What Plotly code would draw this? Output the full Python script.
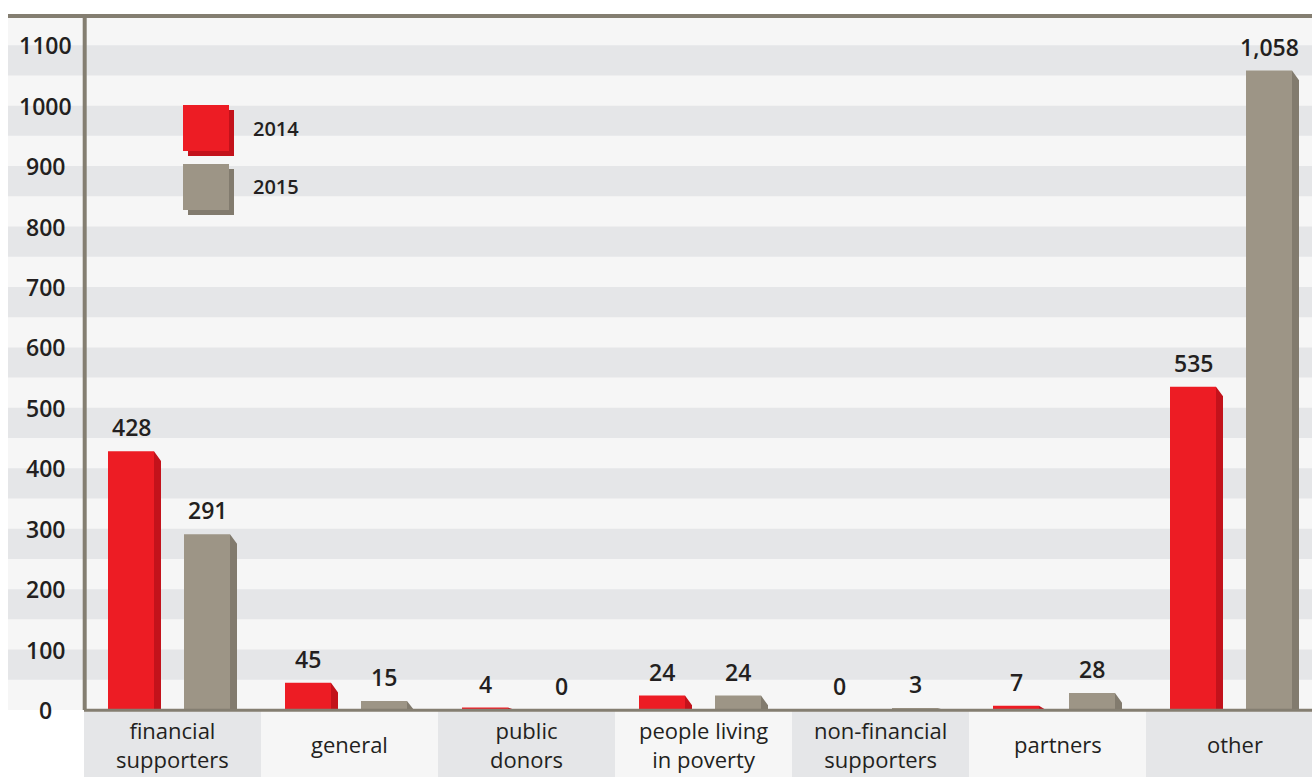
import plotly.graph_objects as go

# ---- data -------------------------------------------------------------
categories = [
    "financial<br>supporters",
    "general",
    "public<br>donors",
    "people living<br>in poverty",
    "non-financial<br>supporters",
    "partners",
    "other",
]
values_2014 = [428, 45, 4, 24, 0, 7, 535]
values_2015 = [291, 15, 0, 24, 3, 28, 1058]
series_names = ["2014", "2015"]
y_ticks = [0, 100, 200, 300, 400, 500, 600, 700, 800, 900, 1000, 1100]

# ---- styling ----------------------------------------------------------
RED, RED_SIDE = "#ed1c24", "#c3121b"
TAUPE, TAUPE_SIDE = "#9d9586", "#827b6e"
AXIS = "#847e71"
BAND_DARK, BAND_LIGHT = "#e5e6e8", "#f6f6f6"
TEXT = "#231f20"
FONT = "Open Sans"

W, H = 1312, 777
ML, MT, MB = 84, 15, 67
PW, PH = W - ML, H - MT - MB
SLOT = 177.0                       # pixels per category
Y_MAX = 1150

FRONT_W = 46 / SLOT
SIDE_W = 7 / SLOT
OFFSETS = [-64.5 / SLOT, 11.5 / SLOT]
BEVEL = 16                          # drop of the bevelled side face, data units


def px_x(p):
    return (p - ML) / PW


def px_y(p):
    return (MT + PH - p) / PH


positions = list(range(len(categories)))
fig = go.Figure()

# front faces of the bars
for vals, off, col, name in zip([values_2014, values_2015], OFFSETS,
                                [RED, TAUPE], series_names):
    fig.add_trace(go.Bar(
        x=positions, y=vals, width=FRONT_W, offset=off, name=name,
        marker=dict(color=col, line=dict(width=0)), hoverinfo="skip",
    ))

# bevelled side faces
for vals, off, col in zip([values_2014, values_2015], OFFSETS,
                          [RED_SIDE, TAUPE_SIDE]):
    xs, ys = [], []
    for i, v in enumerate(vals):
        if v <= 0:
            continue
        x0 = i + off + FRONT_W
        x1 = x0 + SIDE_W
        xs += [x0, x0, x1, x1, x0, None]
        ys += [0, v, max(v - BEVEL, 0), 0, 0, None]
    fig.add_trace(go.Scatter(
        x=xs, y=ys, mode="lines", fill="toself", fillcolor=col,
        line=dict(width=0, color=col), hoverinfo="skip", showlegend=False,
    ))

annotations = []

# value labels above each bar
for vals, off in zip([values_2014, values_2015], OFFSETS):
    for i, v in enumerate(vals):
        annotations.append(dict(
            x=i + off + FRONT_W / 2, y=v, xref="x", yref="y",
            text=f"{v:,}", showarrow=False, yanchor="middle", yshift=24,
            font=dict(family=FONT, size=23, color=TEXT, weight=600),
        ))

# y-axis labels
for t in y_ticks:
    annotations.append(dict(
        x=px_x(45), y=t, xref="paper", yref="y", text=str(t),
        showarrow=False, xanchor="center", yanchor="middle",
        font=dict(family=FONT, size=23, color=TEXT, weight=600),
    ))

# category labels
for i, c in enumerate(categories):
    annotations.append(dict(
        x=i, y=px_y(744), xref="x", yref="paper", text=c,
        showarrow=False, xanchor="center", yanchor="middle",
        font=dict(family=FONT, size=22, color=TEXT),
    ))

shapes = []
# striped background
shapes.append(dict(type="rect", xref="paper", yref="y", x0=px_x(8), x1=1,
                   y0=0, y1=Y_MAX, fillcolor=BAND_LIGHT, line=dict(width=0),
                   layer="below"))
for k in range(1, 12):
    shapes.append(dict(type="rect", xref="paper", yref="y", x0=px_x(8), x1=1,
                       y0=k * 100 - 50, y1=k * 100, fillcolor=BAND_DARK,
                       line=dict(width=0), layer="below"))

# category boxes under the axis
for i in positions:
    shapes.append(dict(type="rect", xref="x", yref="paper",
                       x0=i - 0.5, x1=i + 0.5, y0=px_y(H + 2), y1=px_y(711),
                       fillcolor=BAND_DARK if i % 2 == 0 else BAND_LIGHT,
                       line=dict(width=0), layer="below"))

# axis lines
shapes.append(dict(type="line", xref="paper", yref="paper", x0=px_x(8), x1=1,
                   y0=px_y(16), y1=px_y(16), line=dict(color=AXIS, width=4)))
shapes.append(dict(type="line", xref="paper", yref="paper", x0=px_x(84.7),
                   x1=px_x(84.7), y0=px_y(710), y1=px_y(16),
                   line=dict(color=AXIS, width=4)))
shapes.append(dict(type="line", xref="paper", yref="paper", x0=0, x1=1,
                   y0=px_y(710.2), y1=px_y(710.2), line=dict(color=AXIS, width=3)))

# legend swatches
for (top, col, side) in [(105, RED, RED_SIDE), (164, TAUPE, TAUPE_SIDE)]:
    shapes.append(dict(type="rect", xref="paper", yref="paper",
                       x0=px_x(188), x1=px_x(234), y0=px_y(top + 51), y1=px_y(top + 5),
                       fillcolor=side, line=dict(width=0)))
    shapes.append(dict(type="rect", xref="paper", yref="paper",
                       x0=px_x(183), x1=px_x(229), y0=px_y(top + 46), y1=px_y(top),
                       fillcolor=col, line=dict(width=0)))
for name, cy in zip(series_names, [128, 187]):
    annotations.append(dict(
        x=px_x(251), y=px_y(cy), xref="paper", yref="paper", text=name,
        showarrow=False, xanchor="left", yanchor="middle",
        font=dict(family=FONT, size=20, color=TEXT, weight=600),
    ))

fig.update_layout(
    width=W, height=H, autosize=False,
    margin=dict(l=ML, r=0, t=MT, b=MB, pad=0),
    paper_bgcolor="white", plot_bgcolor=BAND_LIGHT,
    barmode="overlay", showlegend=False,
    xaxis=dict(range=[-0.5, -0.5 + PW / SLOT], showgrid=False, zeroline=False,
               showticklabels=False, fixedrange=True),
    yaxis=dict(range=[0, Y_MAX], showgrid=False, zeroline=False,
               showticklabels=False, fixedrange=True),
    shapes=shapes, annotations=annotations,
)

fig.write_html("out.html")
